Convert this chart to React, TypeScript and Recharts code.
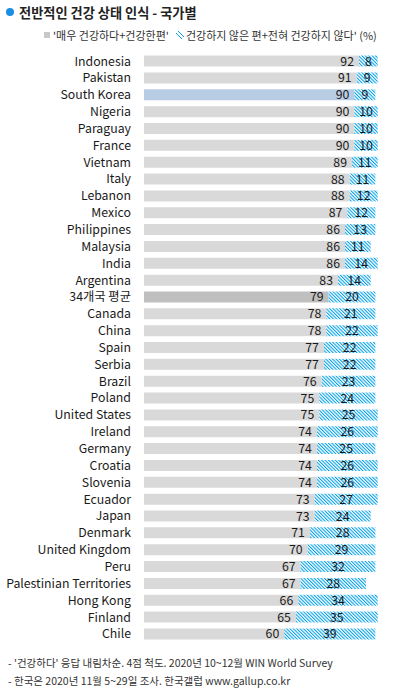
import React from "react";
import { BarChart, Bar, XAxis, YAxis, Cell, LabelList } from "recharts";

const countries = [
  "Indonesia", "Pakistan", "South Korea", "Nigeria", "Paraguay", "France", "Vietnam",
  "Italy", "Lebanon", "Mexico", "Philippines", "Malaysia", "India", "Argentina",
  "34개국 평균", "Canada", "China", "Spain", "Serbia", "Brazil", "Poland",
  "United States", "Ireland", "Germany", "Croatia", "Slovenia", "Ecuador", "Japan",
  "Denmark", "United Kingdom", "Peru", "Palestinian Territories", "Hong Kong", "Finland", "Chile",
];
const healthy = [92, 91, 90, 90, 90, 90, 89, 88, 88, 87, 86, 86, 86, 83, 79, 78, 78, 77, 77, 76, 75, 75, 74, 74, 74, 74, 73, 73, 71, 70, 67, 67, 66, 65, 60];
const unhealthy = [8, 9, 9, 10, 10, 10, 11, 11, 12, 12, 13, 11, 14, 14, 20, 21, 22, 22, 22, 23, 24, 25, 26, 25, 26, 26, 27, 24, 28, 29, 32, 28, 34, 35, 39];

const data = countries.map((name, i) => ({ name, healthy: healthy[i], unhealthy: unhealthy[i] }));

const FONT = "'Noto Sans CJK KR', 'Noto Sans', sans-serif";
const HATCH = "#00a0e9";

const barColor = (name: string) =>
  name === "South Korea" ? "#b8cce4" : name === "34개국 평균" ? "#bfbfbf" : "#d9d9d9";

const YTick = (props: any) => {
  const { x, y, payload } = props;
  return (
    <text x={x} y={y} dy={4.5} textAnchor="end" fontSize={12.3} fill="#1a1a1a" fontFamily={FONT}>
      {payload.value}
    </text>
  );
};

const HealthyLabel = (props: any) => {
  const { x, y, width, height, value } = props;
  return (
    <text x={x + width - 5} y={y + height / 2} dy={4.5} textAnchor="end" fontSize={12.3} fill="#1a1a1a" fontFamily={FONT}>
      {value}
    </text>
  );
};

const UnhealthyLabel = (props: any) => {
  const { x, y, width, height, value } = props;
  return (
    <text x={x + width / 2} y={y + height / 2} dy={4.5} textAnchor="middle" fontSize={12.3} fill="#1a1a1a" fontFamily={FONT}>
      {value}
    </text>
  );
};

export default function App() {
  return (
    <div style={{ position: "absolute", left: 0, top: 0, width: 396, height: 690, background: "#fff", fontFamily: FONT, overflow: "hidden" }}>
      <div style={{ position: "absolute", left: 6, top: 8, width: 8, height: 8, borderRadius: 4, background: "#1a8fe3" }} />
      <div style={{ position: "absolute", left: 19, top: 3, fontSize: 13.2, fontWeight: 700, color: "#222", whiteSpace: "nowrap" }}>
        전반적인 건강 상태 인식 - 국가별
      </div>
      <div style={{ position: "absolute", left: 44, top: 27, fontSize: 11, color: "#333", whiteSpace: "nowrap", display: "flex", alignItems: "center" }}>
        <span style={{ display: "inline-block", width: 6, height: 6, background: "#c8c8c8", marginRight: 3 }} />
        <span>'매우 건강하다+건강한편'</span>
        <svg width={8} height={8} style={{ marginLeft: 7, marginRight: 2 }}>
          <line x1={0} y1={2} x2={6} y2={8} stroke={HATCH} strokeWidth={1} />
          <line x1={2} y1={0} x2={8} y2={6} stroke={HATCH} strokeWidth={1} />
        </svg>
        <span>건강하지 않은 편+전혀 건강하지 않다' (%)</span>
      </div>
      <div style={{ position: "absolute", left: 0, top: 0 }}>
        <BarChart
          width={396}
          height={690}
          data={data}
          layout="vertical"
          margin={{ top: 52.6, right: 18.3, bottom: 47.7, left: 0 }}
          barSize={11}
        >
          <defs>
            <pattern id="hatch" patternUnits="userSpaceOnUse" width={2.4} height={3} patternTransform="rotate(-45)">
              <rect width={2.4} height={3} fill="#fff" />
              <line x1={0.5} y1={0} x2={0.5} y2={3} stroke={HATCH} strokeWidth={1.1} />
            </pattern>
          </defs>
          <XAxis type="number" domain={[0, 100]} hide />
          <YAxis
            type="category"
            dataKey="name"
            width={144}
            tickLine={false}
            axisLine={false}
            tickSize={0}
            tickMargin={13}
            interval={0}
            tick={<YTick />}
          />
          <Bar dataKey="healthy" stackId="a" isAnimationActive={false}>
            {data.map((d) => (
              <Cell key={d.name} fill={barColor(d.name)} />
            ))}
            <LabelList dataKey="healthy" content={<HealthyLabel />} />
          </Bar>
          <Bar dataKey="unhealthy" stackId="a" fill="url(#hatch)" isAnimationActive={false}>
            <LabelList dataKey="unhealthy" content={<UnhealthyLabel />} />
          </Bar>
        </BarChart>
      </div>
      <div style={{ position: "absolute", left: 8, top: 654, fontSize: 10.5, color: "#333", whiteSpace: "nowrap", lineHeight: "18px" }}>
        <div>- '건강하다' 응답 내림차순. 4점 척도. 2020년 10~12월 WIN World Survey</div>
        <div>- 한국은 2020년 11월 5~29일 조사. 한국갤럽 www.gallup.co.kr</div>
      </div>
    </div>
  );
}
